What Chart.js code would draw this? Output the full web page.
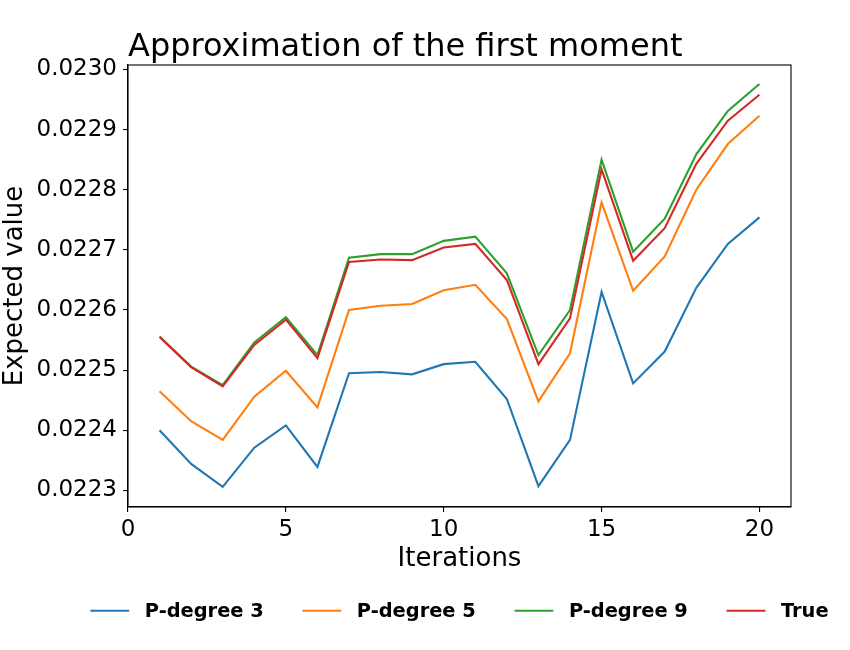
<!DOCTYPE html>
<html>
<head>
<meta charset="utf-8">
<script src="https://cdn.jsdelivr.net/npm/chart.js@4.4.0/dist/chart.umd.min.js"></script>
<style>
  html, body { margin: 0; padding: 0; background: #fff; }
  #wrap { width: 850px; height: 650px; }
</style>
</head>
<body>
<div id="wrap"><canvas id="c" width="850" height="650"></canvas></div>
<script>
const chartTitle = "Approximation of the first moment";
const xTitle = "Iterations";
const yTitle = "Expected value";
const seriesNames = ["P-degree 3", "P-degree 5", "P-degree 9", "True"];
const seriesColors = ["#1f77b4", "#ff7f0e", "#2ca02c", "#d62728"];

const iterations = [1,2,3,4,5,6,7,8,9,10,11,12,13,14,15,16,17,18,19,20];
const pDegree3 = [0.022400, 0.022344, 0.022306, 0.022371, 0.022408, 0.022339, 0.022495, 0.022497, 0.022493, 0.022510,
                  0.022514, 0.022452, 0.022307, 0.022384, 0.022630, 0.022478, 0.022531, 0.022637, 0.022710, 0.022754];
const pDegree5 = [0.022465, 0.022415, 0.022384, 0.022456, 0.022499, 0.022438, 0.022600, 0.022607, 0.022610, 0.022633,
                  0.022642, 0.022585, 0.022448, 0.022528, 0.022779, 0.022632, 0.022689, 0.022800, 0.022876, 0.022923];
const pDegree9 = [0.022556, 0.022506, 0.022475, 0.022546, 0.022588, 0.022525, 0.022687, 0.022693, 0.022693, 0.022715,
                  0.022722, 0.022661, 0.022525, 0.022600, 0.022850, 0.022697, 0.022752, 0.022859, 0.022931, 0.022976];
const trueValue = [0.022555, 0.022505, 0.022473, 0.022542, 0.022584, 0.022520, 0.022680, 0.022684, 0.022683, 0.022704,
                  0.022710, 0.022650, 0.022510, 0.022586, 0.022834, 0.022682, 0.022736, 0.022843, 0.022915, 0.022958];
const xTicks = [0, 5, 10, 15, 20];
const yTicks = [0.0223, 0.0224, 0.0225, 0.0226, 0.0227, 0.0228, 0.0229, 0.0230];

const allSeries = [pDegree3, pDegree5, pDegree9, trueValue];
const FONT = '"DejaVu Sans", "Liberation Sans", sans-serif';

const frameAndText = {
  id: 'frameAndText',
  afterDraw(chart) {
    const ctx = chart.ctx;
    const a = chart.chartArea;
    ctx.save();
    // frame (all four spines)
    ctx.strokeStyle = '#000';
    ctx.lineWidth = 1.1;
    ctx.strokeRect(a.left, a.top, a.right - a.left, a.bottom - a.top);
    // title
    ctx.fillStyle = '#000';
    ctx.font = '32px ' + FONT;
    ctx.textAlign = 'left';
    ctx.textBaseline = 'alphabetic';
    ctx.fillText(chartTitle, a.left, a.top - 9.5);
    // legend
    const fs = 19.4;
    ctx.font = 'bold ' + fs + 'px ' + FONT;
    const handle = 2.0 * fs, pad = 0.8 * fs, colSp = 2.0 * fs;
    const ds = chart.data.datasets;
    const widths = ds.map(d => ctx.measureText(d.label).width);
    let total = 0;
    widths.forEach((w, i) => { total += handle + pad + w + (i < widths.length - 1 ? colSp : 0); });
    let x = (a.left + a.right) / 2 - total / 2;
    const y = chart.height - 39.3;
    ds.forEach((d, i) => {
      ctx.strokeStyle = d.borderColor;
      ctx.lineWidth = 2.1;
      ctx.beginPath();
      ctx.moveTo(x, y);
      ctx.lineTo(x + handle, y);
      ctx.stroke();
      ctx.fillStyle = '#000';
      ctx.textBaseline = 'middle';
      ctx.fillText(d.label, x + handle + pad, y + 1);
      x += handle + pad + widths[i] + colSp;
    });
    ctx.restore();
  }
};

const datasets = allSeries.map((vals, i) => ({
  label: seriesNames[i],
  data: iterations.map((it, k) => ({ x: it, y: vals[k] })),
  borderColor: seriesColors[i],
  backgroundColor: seriesColors[i],
  borderWidth: 2.1,
  pointRadius: 0,
  pointHoverRadius: 0,
  tension: 0,
  fill: false,
  order: allSeries.length - 1 - i
}));

new Chart(document.getElementById('c'), {
  type: 'line',
  data: { datasets },
  plugins: [frameAndText],
  options: {
    responsive: false,
    animation: false,
    devicePixelRatio: 1,
    layout: { padding: { left: 0, right: 59, top: 65, bottom: 67 } },
    plugins: {
      legend: { display: false },
      title: { display: false },
      tooltip: { enabled: false }
    },
    scales: {
      x: {
        type: 'linear',
        min: 0,
        max: 21,
        afterFit(s) { s.height = 76; },
        afterBuildTicks(s) { s.ticks = xTicks.map(v => ({ value: v })); },
        ticks: {
          color: '#000',
          font: { family: FONT, size: 23 },
          padding: 4,
          maxRotation: 0,
          autoSkip: false,
          callback: v => String(v)
        },
        grid: { display: true, drawOnChartArea: false, drawTicks: true, tickLength: 5, color: '#000', lineWidth: 1.1 },
        border: { display: true, color: '#000', width: 1.1 },
        title: {
          display: true,
          text: xTitle,
          color: '#000',
          font: { family: FONT, size: 26, lineHeight: 0.5 },
          padding: { top: 0, bottom: 17.5 }
        }
      },
      y: {
        type: 'linear',
        min: 0.0222724,
        max: 0.0230075,
        afterFit(s) { s.width = 128; },
        afterBuildTicks(s) { s.ticks = yTicks.map(v => ({ value: v })); },
        ticks: {
          color: '#000',
          font: { family: FONT, size: 23 },
          padding: 6,
          autoSkip: false,
          callback: v => v.toFixed(4)
        },
        grid: { display: true, drawOnChartArea: false, drawTicks: true, tickLength: 5, color: '#000', lineWidth: 1.1 },
        border: { display: true, color: '#000', width: 1.1 },
        title: {
          display: true,
          text: yTitle,
          color: '#000',
          font: { family: FONT, size: 26, lineHeight: 1.0 },
          padding: { top: 2, bottom: 0 }
        }
      }
    }
  }
});
</script>
</body>
</html>
